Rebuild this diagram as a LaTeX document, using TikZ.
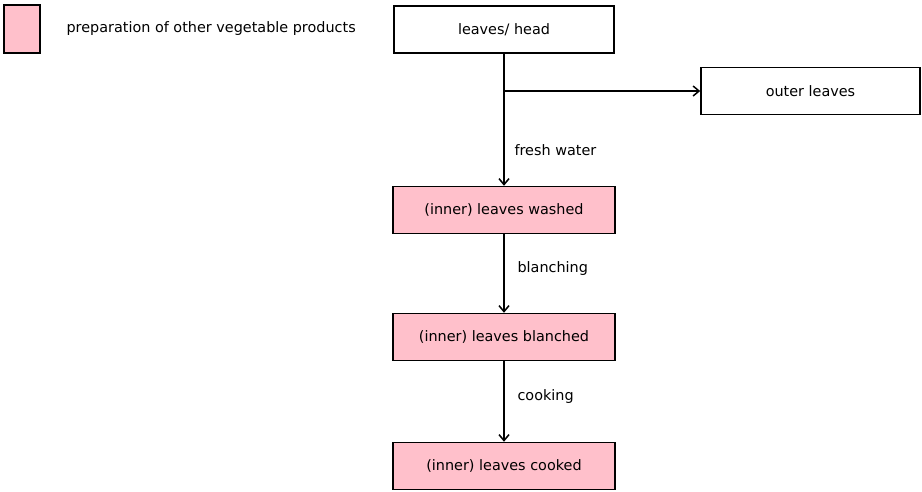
\documentclass[tikz,border=0pt]{standalone}
\usepackage{fontspec}
\setmainfont{DejaVu Sans}
\usetikzlibrary{arrows.meta}
\definecolor{prodpink}{RGB}{255,192,203}

\begin{document}
\begin{tikzpicture}[x=1pt,y=-1pt,
    box/.style={draw, line width=1.5pt, minimum width=220pt, minimum height=47pt, font=\fontsize{14.4}{17}\selectfont},
    prod/.style={box, fill=prodpink},
    flow/.style={line width=1.5pt, -{Straight Barb[length=6pt,width=10pt]}},
    lbl/.style={font=\fontsize{14.4}{17}\selectfont, anchor=west}]
    % Page size
    \useasboundingbox (0,0) rectangle (922,491);
    % Legend
    \node[prod, minimum width=36pt, minimum height=48pt] (key) at (22,29) {};
    \node[lbl] (keytext) at (63,29) {preparation of other vegetable products};
    % Steps
    \node[box] (head) at (504,29.5) {leaves/ head};
    \node[box, minimum width=219pt] (outer) at (810.5,91) {outer leaves};
    \node[prod, minimum width=222pt] (washed) at (504,210) {(inner) leaves washed};
    \node[prod, minimum width=222pt] (blanched) at (504,337) {(inner) leaves blanched};
    \node[prod, minimum width=222pt] (cooked) at (504,466) {(inner) leaves cooked};
    % Branch point
    \coordinate (split) at (head.south |- outer.west);
    % Connectors
    \draw[flow] (head.south) -- (washed.north);
    \draw[flow] (split) -- (outer.west);
    \draw[flow] (washed.south) -- (blanched.north);
    \draw[flow] (blanched.south) -- (cooked.north);
    % Step labels
    \node[lbl] (water) at (511,150) {fresh water};
    \node[lbl] (blanch) at (514,269) {blanching};
    \node[lbl] (cook) at (514,397) {cooking};
\end{tikzpicture}
\end{document}
